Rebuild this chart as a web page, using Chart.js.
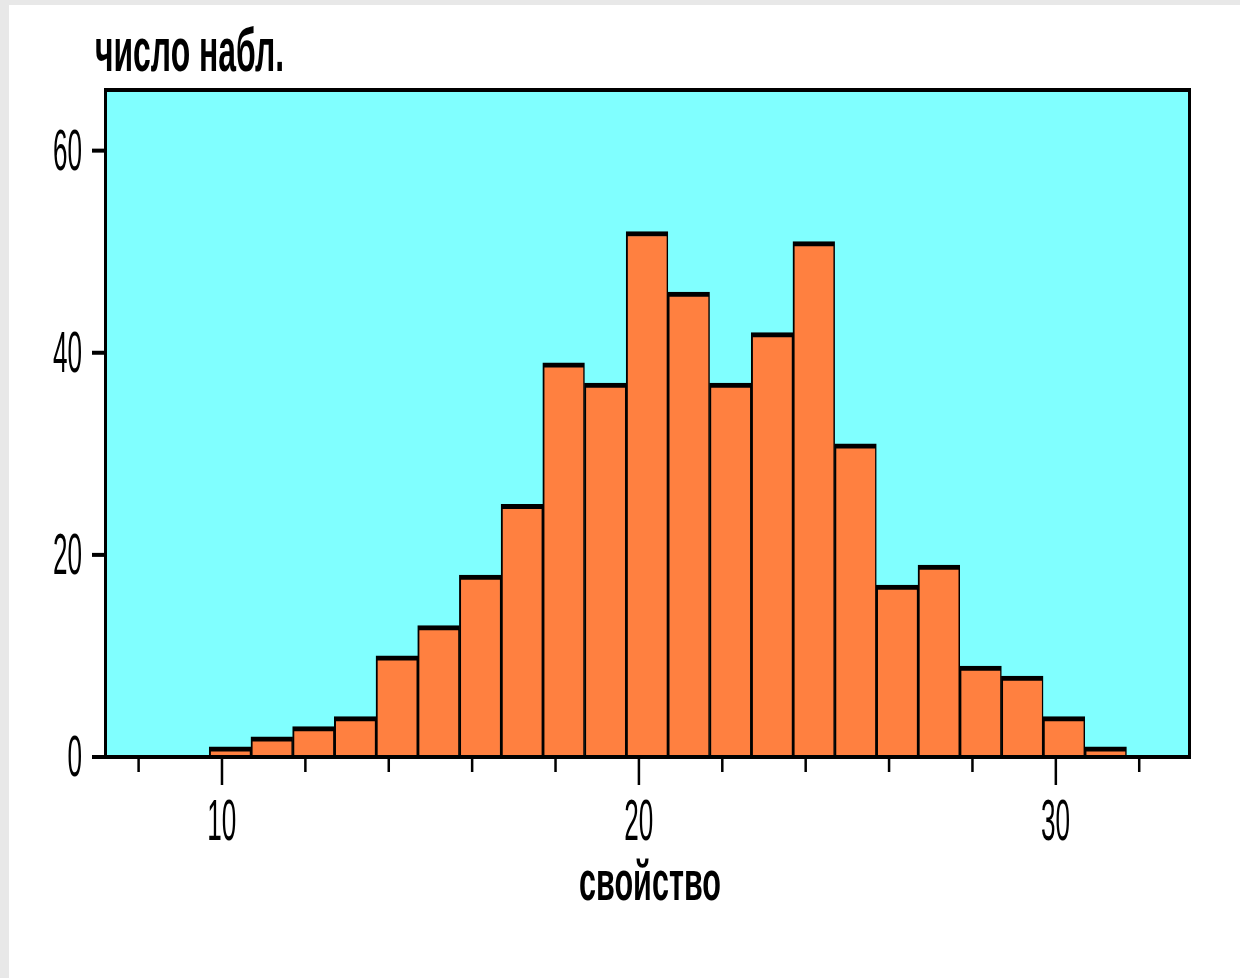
<!DOCTYPE html>
<html>
<head>
<meta charset="utf-8">
<script src="https://cdn.jsdelivr.net/npm/chart.js@4/dist/chart.umd.min.js"></script>
<style>
  html, body { margin: 0; padding: 0; background: #e8e8e8; }
  canvas { display: block; }
</style>
</head>
<body>
<canvas id="c" width="1240" height="978"></canvas>
<script>
// ---- data ----
const binCenters = [10.2, 11.2, 12.2, 13.2, 14.2, 15.2, 16.2, 17.2, 18.2, 19.2, 20.2,
                    21.2, 22.2, 23.2, 24.2, 25.2, 26.2, 27.2, 28.2, 29.2, 30.2, 31.2];
const counts = [1, 2, 3, 4, 10, 13, 18, 25, 39, 37, 52, 46, 37, 42, 51, 31, 17, 19, 9, 8, 4, 1];
const xTickValues = [8, 10, 12, 14, 16, 18, 20, 22, 24, 26, 28, 30, 32];
const xLabeledTicks = [10, 20, 30];
const xTickLabels = ['10', '20', '30'];
const yTickValues = [0, 20, 40, 60];
const yTickLabels = ['0', '20', '40', '60'];
const yTitle = 'число набл.';
const xTitle = 'свойство';

const points = binCenters.map((x, i) => ({ x: x, y: counts[i] }));

function stretchText(ctx, text, x, y, font, sx, align) {
  ctx.save();
  ctx.font = font;
  ctx.textBaseline = 'alphabetic';
  ctx.textAlign = align;
  ctx.translate(x, y);
  ctx.scale(sx, 1);
  ctx.fillText(text, 0, 0);
  ctx.restore();
}
function fitText(ctx, text, x, y, font, targetW, align) {
  ctx.save();
  ctx.font = font;
  const w = ctx.measureText(text).width;
  ctx.restore();
  stretchText(ctx, text, x, y, font, targetW / w, align);
}

const decor = {
  id: 'decor',
  beforeDraw(chart) {
    const ctx = chart.ctx, a = chart.chartArea;
    ctx.save();
    ctx.fillStyle = '#e8e8e8';
    ctx.fillRect(0, 0, chart.width, chart.height);
    ctx.fillStyle = '#ffffff';
    ctx.fillRect(9, 5, chart.width - 9, chart.height - 5);
    ctx.fillStyle = '#80ffff';
    ctx.fillRect(a.left, a.top, a.right - a.left, a.bottom - a.top);
    ctx.restore();
  },
  afterDatasetsDraw(chart) {
    const ctx = chart.ctx, a = chart.chartArea;
    const xs = chart.scales.x, ys = chart.scales.y;
    ctx.save();
    ctx.fillStyle = '#000000';
    // frame
    ctx.fillRect(a.left - 1, a.top - 2, a.right - a.left + 3, 4);   // top
    ctx.fillRect(a.left - 1, a.top - 2, 3, a.bottom - a.top + 2);    // left
    ctx.fillRect(a.right - 1, a.top - 2, 3, a.bottom - a.top + 2);   // right
    ctx.fillRect(92, a.bottom - 2, a.right - 92 + 2, 4);             // x axis line
    // y ticks
    yTickValues.forEach(v => {
      const py = ys.getPixelForValue(v);
      ctx.fillRect(92, py - 2, a.left - 92, 4);
    });
    // x ticks (minor every step, major where labelled)
    xTickValues.forEach(v => {
      const px = xs.getPixelForValue(v);
      const major = xLabeledTicks.includes(v);
      ctx.fillRect(px - 1, a.bottom, 2.5, major ? 28 : 15);
    });
    // labels
    const numFont = '58px "Liberation Sans", Arial, sans-serif';
    xLabeledTicks.forEach((v, i) => {
      const px = xs.getPixelForValue(v);
      stretchText(ctx, xTickLabels[i], px, 840, numFont, 0.45, 'center');
    });
    yTickValues.forEach((v, i) => {
      const py = ys.getPixelForValue(v);
      stretchText(ctx, yTickLabels[i], 82, py + 19, numFont, 0.45, 'right');
    });
    fitText(ctx, yTitle, 95, 71, 'bold 62px "Liberation Sans", Arial, sans-serif', 189, 'left');
    fitText(ctx, xTitle, 650, 900, 'bold 56px "Liberation Sans", Arial, sans-serif', 142, 'center');
    ctx.restore();
  }
};

new Chart(document.getElementById('c'), {
  type: 'bar',
  data: {
    datasets: [{
      data: points,
      backgroundColor: '#ff8040',
      borderColor: '#000000',
      borderWidth: { top: 5, left: 2, right: 1.5, bottom: 0 },
      borderSkipped: 'start',
      barPercentage: 1,
      categoryPercentage: 1
    }]
  },
  options: {
    responsive: false,
    devicePixelRatio: 1,
    animation: false,
    events: [],
    layout: { padding: { left: 105, top: 90, right: 51, bottom: 221 } },
    plugins: { legend: { display: false }, tooltip: { enabled: false }, title: { display: false } },
    scales: {
      x: {
        type: 'linear',
        offset: false,
        min: 7.2,
        max: 33.2,
        ticks: { display: false, stepSize: 2, includeBounds: false },
        grid: { display: false },
        border: { display: false },
        afterFit: s => { s.height = 0; }
      },
      y: {
        min: 0,
        max: 66,
        ticks: { display: false, stepSize: 20, includeBounds: false },
        grid: { display: false },
        border: { display: false },
        afterFit: s => { s.width = 0; }
      }
    }
  },
  plugins: [decor]
});
</script>
</body>
</html>
